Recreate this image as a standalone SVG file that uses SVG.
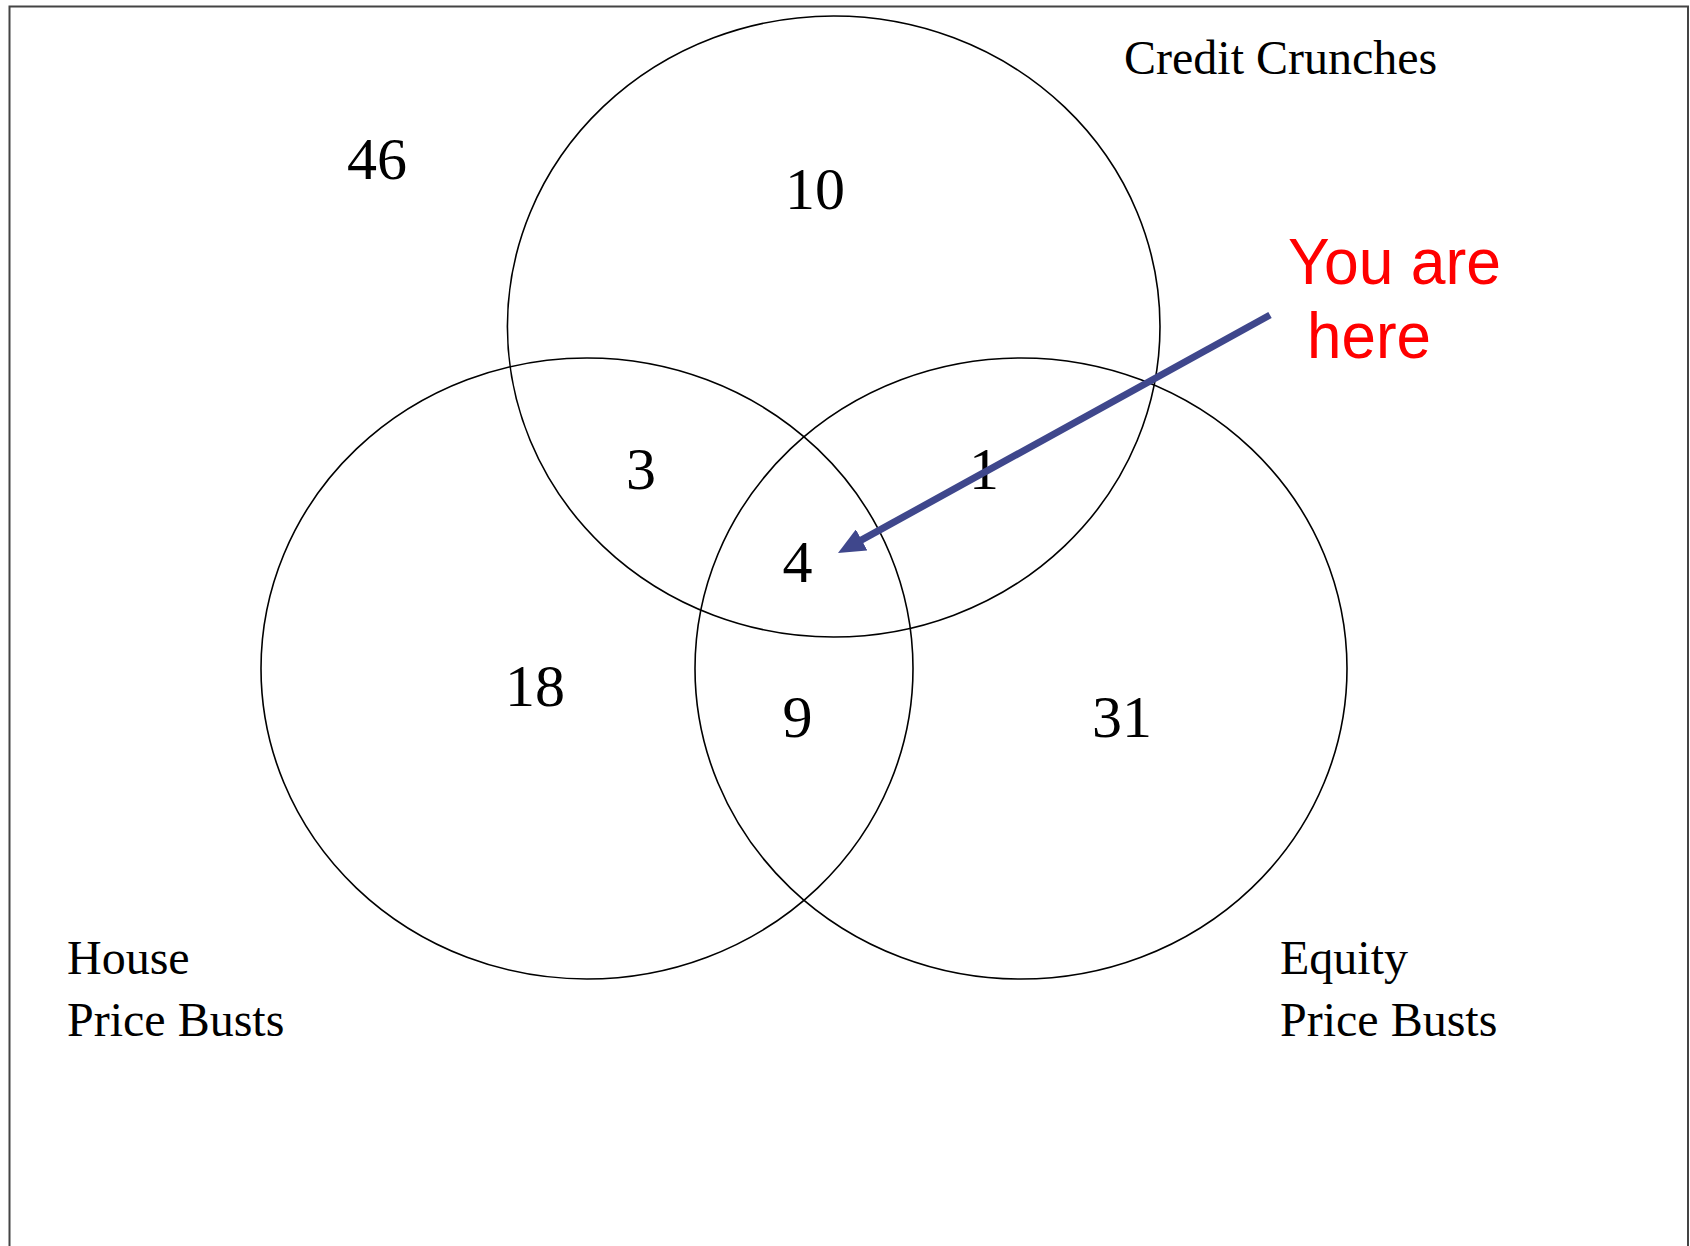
<svg xmlns="http://www.w3.org/2000/svg" width="1690" height="1246" viewBox="0 0 1690 1246">
  <style>
    .set { fill: none; stroke: #000; stroke-width: 1.6; }
    .num { font-family: "Liberation Serif", "Times New Roman", serif; font-size: 60px; fill: #000; text-anchor: middle; }
    .lbl { font-family: "Liberation Serif", "Times New Roman", serif; font-size: 48px; fill: #000; }
    .here { font-family: "Liberation Sans", Arial, sans-serif; font-size: 64px; fill: #ff0000; }
    .arrow { fill: none; stroke: #3f478c; stroke-width: 7; }
  </style>
  <defs>
    <marker id="head" markerUnits="userSpaceOnUse" markerWidth="28" markerHeight="24" refX="2" refY="12" orient="auto">
      <path d="M0,0 L27,12 L0,24 z" fill="#3f478c"/>
    </marker>
  </defs>
  <rect x="0" y="0" width="1690" height="1246" fill="#fff"/>
  <rect x="9.5" y="6.5" width="1678.5" height="1260" fill="none" stroke="#444" stroke-width="2"/>

  <g id="credit-crunches">
    <ellipse class="set" cx="833.7" cy="326.5" rx="326.3" ry="310.5"/>
    <text class="lbl" x="1124" y="74">Credit Crunches</text>
  </g>
  <g id="house-price-busts">
    <ellipse class="set" cx="587" cy="668.5" rx="326" ry="310.5"/>
    <text class="lbl" x="67" y="974">House</text>
    <text class="lbl" x="67" y="1036">Price Busts</text>
  </g>
  <g id="equity-price-busts">
    <ellipse class="set" cx="1021" cy="668.5" rx="326" ry="310.5"/>
    <text class="lbl" x="1280" y="974">Equity</text>
    <text class="lbl" x="1280" y="1036">Price Busts</text>
  </g>

  <g id="counts">
    <text class="num" x="377" y="179">46</text>
    <text class="num" x="815" y="209">10</text>
    <text class="num" x="641" y="489">3</text>
    <text class="num" x="984" y="489">1</text>
    <text class="num" x="797.5" y="582">4</text>
    <text class="num" x="535" y="706">18</text>
    <text class="num" x="797.5" y="737">9</text>
    <text class="num" x="1122" y="737">31</text>
  </g>

  <g id="you-are-here">
    <text class="here" x="1288" y="283.5" textLength="213" lengthAdjust="spacingAndGlyphs">You are</text>
    <text class="here" x="1307" y="358" textLength="124" lengthAdjust="spacingAndGlyphs">here</text>
  </g>

  <g id="connectors">
    <line class="arrow" x1="1270" y1="315" x2="859.9" y2="540.9" marker-end="url(#head)"/>
  </g>
</svg>
